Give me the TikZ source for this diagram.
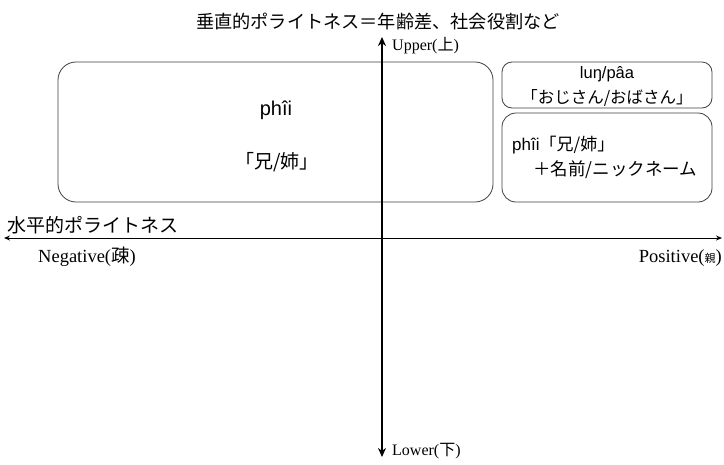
\documentclass[tikz,border=0pt]{standalone}
\usepackage{fontspec}
\setmainfont{Liberation Serif}
\setsansfont{Liberation Sans}
\newfontfamily\cjk{Noto Sans CJK JP}
\usetikzlibrary{arrows.meta}
\begin{document}
\begin{tikzpicture}[x=1pt,y=-1pt,
  box/.style={draw=black!75,line width=0.8pt,rounded corners=16pt},
  lbl/.style={inner sep=0pt,font=\fontsize{16}{20}\selectfont},
  btxt/.style={inner sep=0pt,font=\sffamily\fontsize{17}{20}\selectfont}]
\useasboundingbox[fill=white] (0,0) rectangle (724,464);
% boxes
\draw[box,rounded corners=18pt] (58,62) rectangle (493,202);
\draw[box,rounded corners=10pt] (502,62) rectangle (712,108);
\draw[box,rounded corners=14pt] (502,113) rectangle (712,202);
% axes
\coordinate (hl) at (4,238);
\coordinate (hr) at (722,238);
\coordinate (vt) at (382,37);
\coordinate (vb) at (382,457);
\draw[line width=0.9pt,{Stealth[length=6pt,width=5pt]}-{Stealth[length=6pt,width=5pt]}] (hl) -- (hr);
\draw[line width=2.4pt,{Stealth[length=9pt,width=8pt]}-{Stealth[length=9pt,width=8pt]}] (vb) -- (vt);
% labels
\node[lbl] (title) at (378,22) {\cjk\fontsize{18.2}{20}\selectfont 垂直的ポライトネス＝年齢差、社会役割など};
\node[lbl,anchor=west] (up) at (392,46) {Upper({\cjk 上})};
\node[lbl,anchor=west] (low) at (392,451) {Lower({\cjk 下})};
\node[lbl,anchor=west] (hor) at (7,225) {\cjk\fontsize{19}{20}\selectfont 水平的ポライトネス};
\node[lbl,anchor=west,font=\fontsize{18.5}{20}\selectfont] (neg) at (38,257) {Negative({\cjk 疎})};
\node[lbl,anchor=east,font=\fontsize{18.5}{20}\selectfont] (pos) at (722,258) {Positive({\cjk\fontsize{11}{12}\selectfont 親})};
% box texts
\node[btxt,font=\sffamily\fontsize{20}{22}\selectfont] (t1) at (276,110) {phîi};
\node[btxt,font=\sffamily\fontsize{19}{20}\selectfont] (t2) at (277,162) {\cjk 「兄/姉」};
\node[btxt,font=\sffamily\fontsize{16.5}{20}\selectfont] (t3) at (607,74) {luŋ/pâa};
\node[btxt,font=\sffamily\fontsize{16.5}{20}\selectfont] (t4) at (607,98) {\cjk 「おじさん/おばさん」};
\node[btxt,anchor=west] (t5) at (512,145) {phîi{\cjk 「兄/姉」}};
\node[btxt,anchor=west,font=\sffamily\fontsize{17.5}{20}\selectfont] (t6) at (533,170) {\cjk ＋名前/ニックネーム};
\end{tikzpicture}
\end{document}
